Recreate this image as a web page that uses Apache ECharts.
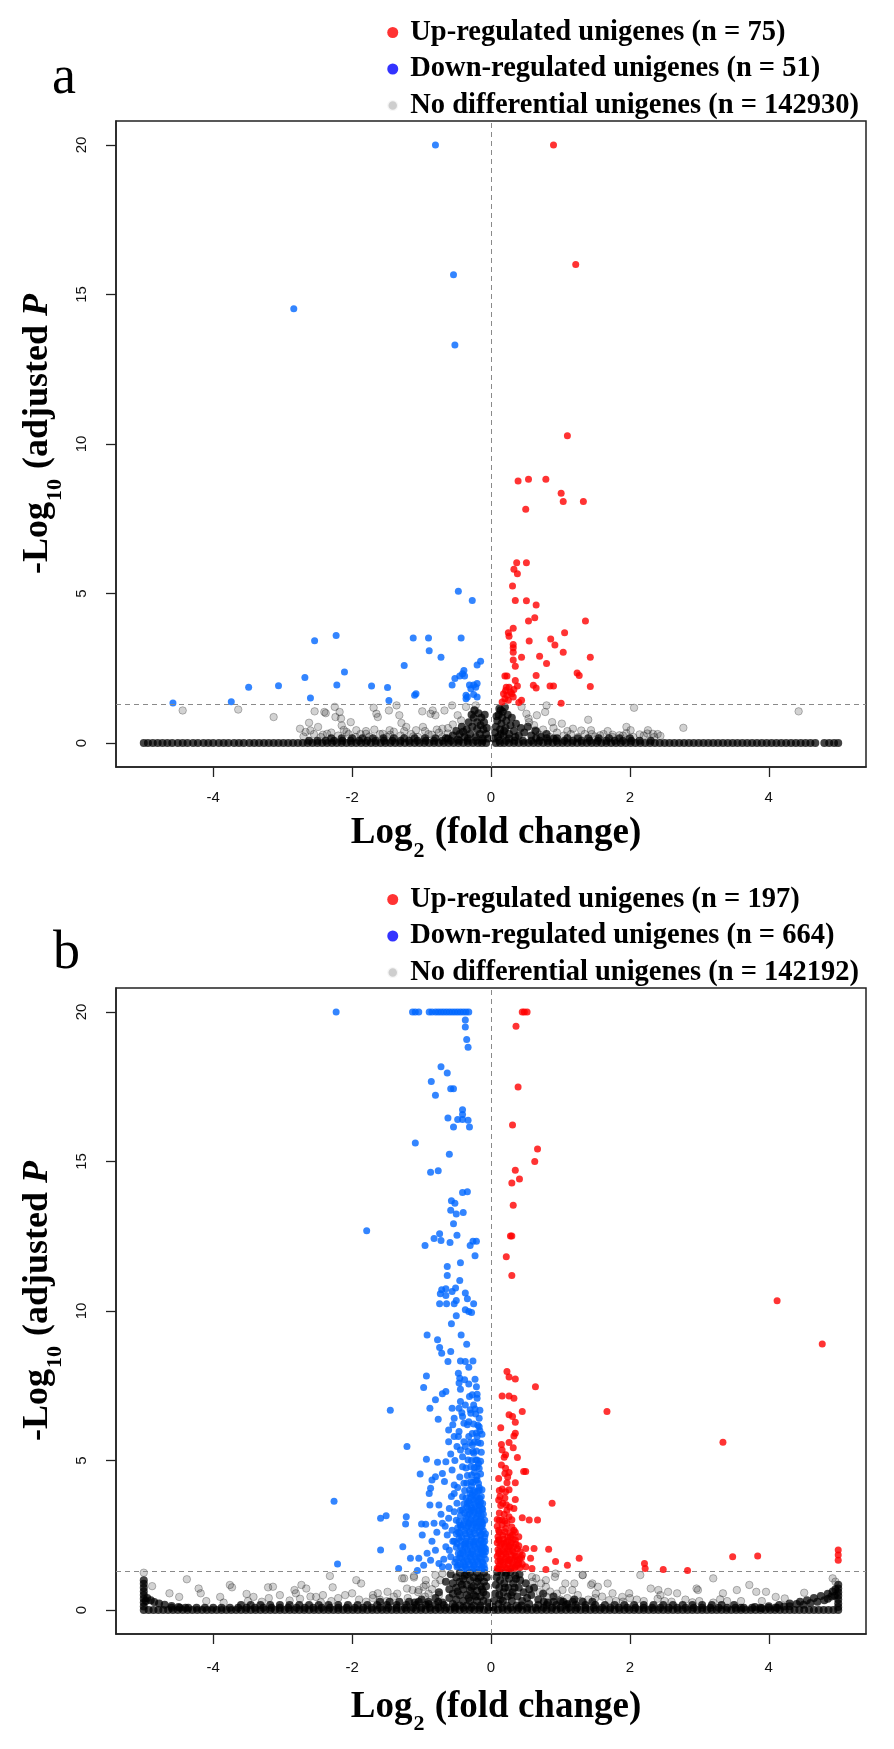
<!DOCTYPE html>
<html>
<head>
<meta charset="utf-8">
<script src="https://cdn.jsdelivr.net/npm/echarts@6/dist/echarts.min.js"></script>
<style>
html,body{margin:0;padding:0;background:#fff;}
#chart{width:894px;height:1749px;}
</style>
</head>
<body>
<div id="chart"></div>
<script>
// ---------- axis settings ----------
const xTicks = [-4, -2, 0, 2, 4];
const yTicks = [0, 5, 10, 15, 20];
const pThreshold = 1.3;
const foldLine = 0;

// ---------- panel a ----------
const upNameA = 'Up-regulated unigenes (n = 75)';
const downNameA = 'Down-regulated unigenes (n = 51)';
const nsNameA = 'No differential unigenes (n = 142930)';

const upA = [
[0.9,20],[1.22,16.0],[1.1,10.28],[0.39,8.76],[0.54,8.82],[0.79,8.82],[1.01,8.35],[1.04,8.08],[1.33,8.08],[0.5,7.82],
[0.37,6.03],[0.51,6.03],[0.33,5.81],[0.38,5.66],[0.31,5.25],[0.35,4.77],[0.51,4.76],[0.65,4.62],[0.54,4.08],[0.63,4.19],
[1.36,4.08],[0.32,3.84],[0.25,3.69],[0.26,3.57],[0.55,3.41],[0.86,3.48],[1.06,3.69],[0.92,3.28],[0.32,3.3],[0.32,3.19],
[0.32,3.04],[0.44,2.87],[0.7,2.9],[1.04,3.04],[1.43,2.87],[0.32,2.78],[0.8,2.66],[0.35,2.57],[0.2,2.24],[0.23,2.24],
[0.65,2.26],[1.24,2.34],[1.27,2.26],[0.35,2.09],[0.61,1.93],[0.65,1.84],[0.85,1.91],[0.9,1.91],[1.43,1.89],[0.22,1.87],
[0.26,1.87],[0.38,1.91],[0.18,1.65],[0.23,1.6],[0.28,1.71],[0.32,1.54],[0.2,1.48],[0.25,1.43],[0.16,1.37],[0.3,1.65],
[0.33,1.79],[0.21,1.76],[0.44,1.43],[0.4,1.36],[1.01,1.33]
];
const downA = [
[-0.8,20],[-0.54,15.66],[-2.84,14.52],[-0.52,13.31],
[-0.47,5.08],[-0.27,4.77],[-2.23,3.6],[-2.54,3.42],[-1.12,3.51],[-0.9,3.51],[-0.43,3.51],[-0.89,3.09],[-0.72,2.87],
[-1.25,2.59],[-0.15,2.74],[-0.2,2.61],[-0.39,2.43],[-0.41,2.32],[-0.45,2.24],[-0.52,2.16],[-0.38,2.24],[-2.11,2.38],
[-2.68,2.19],[-2.22,1.94],[-3.06,1.92],[-3.49,1.87],[-1.72,1.91],[-1.49,1.86],[-0.56,1.94],[-0.31,1.94],[-0.25,1.94],
[-0.2,1.99],[-0.29,1.82],[-0.22,1.87],[-0.36,1.6],[-0.34,1.54],[-0.25,1.62],[-0.2,1.54],[-0.36,1.48],[-1.08,1.65],
[-1.1,1.6],[-2.6,1.51],[-1.47,1.42],[-3.74,1.38],[-4.58,1.34]
];
const nsScatterA = [
[-4.44,1.09],[-3.64,1.12],[-3.13,0.87],[-2.75,0.48],[-2.62,0.68],[-2.67,0.37],[-2.54,1.06],[-2.49,0.54],[-2.4,1.04],
[-2.38,1.0],[-2.25,1.21],[-2.24,0.87],[-2.18,1.04],[-2.16,0.82],[-2.15,0.59],[-2.02,0.7],[-1.94,0.43],[-2.08,0.37],
[-2.36,0.31],[-1.69,1.18],[-1.65,0.98],[-1.63,0.87],[-1.47,1.09],[-1.36,1.26],[-1.32,0.93],[-1.29,0.67],[-1.22,0.54],
[-1.46,0.43],[-1.56,0.31],[-1.8,0.31],[-0.99,1.06],[-0.87,0.98],[-0.84,1.09],[-0.8,0.93],[-0.67,1.09],[-0.98,0.54],
[-1.08,0.43],[-0.7,0.48],[-0.56,1.26],[-0.48,0.93],[-0.43,0.76],[-0.36,1.21],[-0.23,1.09],[-0.22,1.26],[0.8,1.26],
[0.78,1.04],[0.66,0.93],[0.88,0.7],[1.02,0.65],[1.18,0.48],[1.4,0.78],[1.44,0.43],[2.06,1.18],[1.95,0.54],[2.01,0.43],
[2.26,0.43],[2.33,0.31],[2.44,0.24],[2.77,0.51],[4.43,1.06],[0.54,0.82],[0.51,0.98],[0.44,1.21],[0.64,0.43],[1.75,0.28],
[1.85,0.26],[1.57,0.26],[2.14,0.29],
[-2.7,0.22],[-2.55,0.3],[-2.45,0.2],[-2.3,0.35],[-2.2,0.25],[-2.05,0.3],[-1.95,0.2],[-1.8,0.4],[-1.75,0.22],[-1.6,0.3],
[-1.5,0.2],[-1.4,0.38],[-1.3,0.25],[-1.15,0.3],[-1.05,0.2],[-0.95,0.4],[-0.85,0.28],[-0.75,0.35],[-0.7,0.2],[-0.62,0.5],
[-0.55,0.62],[0.55,0.7],[0.62,0.6],[0.7,0.28],[0.75,0.45],[0.85,0.2],[0.95,0.35],[1.05,0.25],[1.15,0.3],[1.25,0.2],
[1.35,0.3],[1.5,0.22],[1.62,0.3],[1.75,0.2],[1.9,0.25],[2.05,0.2],[2.2,0.25],[2.35,0.2],
[-2.6,0.42],[-2.42,0.28],[-2.12,0.44],[-1.88,0.3],[-1.68,0.45],[-1.45,0.28],[-1.25,0.4],[-1.12,0.22],[-0.9,0.3],[-0.78,0.45],
[-0.62,0.32],[0.66,0.38],[0.9,0.5],[1.1,0.4],[1.3,0.42],[1.45,0.3],[1.68,0.4],[1.95,0.33],[2.25,0.32],[2.4,0.3]
];
const nsZeroA = [
-5.0,-4.94,-4.87,-4.8,-4.73,-4.66,-4.59,-4.51,-4.44,-4.37,-4.29,-4.22,-4.14,-4.07,-4.0,-3.92,-3.85,-3.78,-3.7,-3.63,
-3.56,-3.48,-3.41,-3.34,-3.27,-3.2,-3.13,-3.06,-2.99,-2.92,-2.85,-2.78,-2.71,-2.64,-2.57,-2.5,-2.43,-2.36,-2.29,-2.22,
-2.15,-2.08,-2.01,-1.94,-1.87,-1.8,-1.73,-1.66,-1.59,-1.52,-1.45,-1.38,-1.31,-1.24,-1.17,-1.1,-1.03,-0.96,-0.89,-0.82,
-0.75,-0.68,-0.61,-0.54,-0.47,-0.4,-0.33,-0.26,-0.19,-0.13,-0.07,0.07,0.13,0.19,0.26,0.33,0.4,0.47,0.54,0.61,0.68,0.75,
0.82,0.89,0.96,1.03,1.1,1.17,1.24,1.31,1.38,1.45,1.52,1.59,1.66,1.73,1.8,1.87,1.94,2.01,2.08,2.15,2.22,2.29,2.36,2.43,
2.5,2.57,2.64,2.71,2.78,2.85,2.92,2.99,3.06,3.13,3.2,3.27,3.34,3.41,3.48,3.55,3.62,3.69,3.76,3.83,3.9,3.97,4.04,4.11,
4.18,4.25,4.32,4.39,4.46,4.53,4.6,4.67,4.8,4.87,4.94,5.0
];
const nsRowA = [
-2.62,-2.5,-2.38,-2.26,-2.14,-2.02,-1.9,-1.78,-1.66,-1.54,-1.42,-1.3,-1.18,-1.06,-0.94,-0.82,-0.7,-0.58,-0.46,-0.34,
-0.22,-0.12,0.12,0.22,0.34,0.46,0.58,0.7,0.82,0.94,1.06,1.18,1.3,1.42,1.54,1.66,1.78,1.9,2.02,2.14,2.3
];
const nsRowA2 = [
-2.3,-2.15,-2.0,-1.85,-1.7,-1.55,-1.4,-1.25,-1.1,-0.95,-0.8,-0.65,0.65,0.8,0.95,1.1,1.25,1.4,1.55,1.7,1.85,2.0
];
const nsSpikeA = [
[-0.55,0.25],[-0.5,0.4],[-0.45,0.3],[-0.42,0.55],[-0.38,0.2],[-0.35,0.45],[-0.32,0.7],[-0.3,0.3],[-0.27,0.55],[-0.25,0.85],
[-0.22,0.2],[-0.2,0.45],[-0.2,0.7],[-0.18,1.0],[-0.16,0.3],[-0.15,0.6],[-0.14,0.85],[-0.12,0.15],[-0.11,0.45],[-0.1,0.7],
[-0.09,0.95],[-0.07,0.3],[-0.06,0.5],[-0.04,0.15],[-0.28,0.95],[-0.24,1.1],[-0.62,0.15],[-0.48,0.12],[-0.4,0.38],[-0.33,0.15],
[0.04,0.15],[0.06,0.35],[0.07,0.55],[0.09,0.75],[0.1,0.2],[0.11,0.95],[0.12,1.15],[0.13,0.45],[0.15,0.65],[0.16,0.85],
[0.17,1.05],[0.18,0.25],[0.2,1.2],[0.21,0.5],[0.22,0.75],[0.24,0.95],[0.26,0.3],[0.28,0.6],[0.3,0.85],[0.33,0.4],
[0.36,0.65],[0.4,0.25],[0.43,0.5],[0.48,0.35],[0.53,0.55],[0.58,0.25],[0.64,0.4],[0.72,0.2],[0.8,0.3],[0.9,0.15],
[0.14,0.3],[0.19,0.4],[0.26,0.15],[0.35,0.2],[0.08,0.9],[0.14,1.1]
];

// ---------- panel b ----------
const upNameB = 'Up-regulated unigenes (n = 197)';
const downNameB = 'Down-regulated unigenes (n = 664)';
const nsNameB = 'No differential unigenes (n = 142192)';

const upB = [
[0.45,20],[0.48,20],[0.52,20],[0.36,19.52],[0.39,17.49],[0.31,16.22],[0.67,15.42],[0.63,15.0],[0.35,14.71],[0.41,14.41],
[0.3,14.28],[0.32,13.54],[0.28,12.51],[0.3,12.51],[0.22,11.81],[0.3,11.19],[4.12,10.34],[4.77,8.9],
[0.23,7.98],[0.26,7.79],[0.35,7.73],[0.64,7.47],[0.16,7.16],[0.26,7.16],[0.33,7.08],[0.45,6.64],[0.26,6.53],[0.31,6.47],
[0.35,6.28],[0.35,5.91],[0.33,5.82],[0.15,5.54],[0.32,5.43],[0.21,5.19],[0.19,5.11],[0.38,5.1],[0.15,4.85],[0.21,4.74],
[0.2,4.57],[0.47,4.63],[0.5,4.63],[0.26,4.6],[0.23,4.26],[0.35,4.26],[0.16,4.05],[0.21,3.96],[0.35,3.7],[0.11,3.68],
[0.17,3.57],[0.23,3.34],[0.33,3.4],[0.88,3.57],[0.09,3.03],[0.16,3.01],[0.26,3.12],[0.45,3.09],[0.55,3.01],[0.67,3.01],
[0.11,2.67],[0.21,2.73],[0.33,2.67],[0.4,2.45],[0.28,2.45],[0.11,2.34],[0.19,2.23],[0.26,2.12],[0.35,2.34],[0.5,2.06],
[0.62,2.06],[0.83,2.03],[0.45,1.84],[0.57,1.73],[0.35,1.78],[0.26,1.67],[0.14,1.62],[0.11,1.89],[0.21,1.89],[0.5,1.45],
[0.59,1.39],[0.79,1.36],[0.93,1.62],[1.1,1.5],[1.27,1.73],[0.35,1.45],[0.23,1.39],[0.11,1.39],[0.4,1.56],
[1.67,6.64],[3.34,5.61],[2.21,1.56],[2.22,1.39],[2.48,1.36],[2.83,1.32],[3.48,1.78],[3.84,1.81],[5.0,2.01],[5.0,1.84],[5.0,1.67],
[0.09,1.4],[0.15,1.38],[0.21,1.42],[0.28,1.38],[0.34,1.4],[0.42,1.42],[0.1,1.62],[0.17,1.6],[0.24,1.64],[0.31,1.58],
[0.38,1.66],[0.09,1.8],[0.15,1.82],[0.22,1.78],[0.29,1.84],[0.36,1.8],[0.44,1.75],[0.1,2.02],[0.17,2.0],[0.24,2.04],
[0.31,1.98],[0.38,2.05],[0.09,2.25],[0.15,2.22],[0.22,2.28],[0.29,2.24],[0.36,2.2],[0.1,2.45],[0.17,2.5],[0.24,2.44],
[0.31,2.52],[0.09,2.8],[0.16,2.85],[0.23,2.9],[0.3,2.78],[0.12,3.25],[0.19,3.2],[0.27,3.45],[0.13,3.8],[0.2,3.75],
[0.11,4.4],[0.24,4.45],[0.16,5.35],[0.26,5.6],[0.14,6.1],
[0.12,1.5],[0.18,1.5],[0.25,1.52],[0.31,1.48],[0.38,1.5],[0.45,1.53],[0.13,1.7],[0.2,1.72],[0.27,1.7],[0.34,1.68],
[0.41,1.72],[0.12,1.95],[0.19,1.93],[0.26,1.96],[0.33,1.92],[0.42,1.95],[0.13,2.15],[0.2,2.13],[0.28,2.16],[0.33,2.12],
[0.4,2.15],[0.12,2.35],[0.18,2.37],[0.25,2.33],[0.32,2.36],[0.12,2.6],[0.2,2.62],[0.27,2.58],[0.35,2.6],[0.12,3.0],
[0.2,2.98],[0.3,3.02],[0.14,3.5],[0.22,3.52],[0.12,4.0],[0.26,4.02]
];
const downB = [
[-2.23,20],[-1.13,20],[-1.09,20],[-1.04,20],[-0.89,20],[-0.85,20],[-0.8,20],[-0.76,20],[-0.72,20],[-0.68,20],
[-0.64,20],[-0.6,20],[-0.56,20],[-0.52,20],[-0.48,20],[-0.44,20],[-0.4,20],[-0.36,20],[-0.32,20],
[-0.37,19.73],[-0.37,19.5],[-0.35,19.08],[-0.33,18.82],[-0.72,18.17],[-0.63,17.96],[-0.86,17.67],[-0.58,17.43],[-0.54,17.43],
[-0.8,17.21],[-0.41,16.73],[-0.41,16.57],[-0.62,16.45],[-0.48,16.4],[-0.41,16.4],[-0.33,16.38],[-0.54,16.15],[-0.31,16.15],
[-1.09,15.62],[-0.6,15.24],[-0.87,14.64],[-0.76,14.69],[-0.41,13.96],[-0.34,13.99],[-0.57,13.69],[-0.52,13.6],[-0.58,13.37],
[-0.5,13.24],[-0.4,13.29],[-0.54,12.92],[-1.79,12.68],[-0.74,12.58],[-0.82,12.42],[-0.72,12.36],[-0.49,12.53],[-0.59,12.29],
[-0.95,12.19],[-0.3,12.19],[-0.26,12.33],[-0.21,12.33],[-0.23,11.85],[-0.44,11.61],[-0.63,11.49],[-0.63,11.19],
[-0.45,11.02],[-0.51,10.77],[-0.56,10.65],[-0.71,10.71],[-0.65,10.74],[-0.73,10.58],[-0.65,10.52],[-0.37,10.6],[-0.34,10.41],
[-0.5,10.35],[-0.53,10.24],[-0.74,10.24],[-0.64,10.24],[-0.25,10.24],
[-0.32,9.98],[-0.37,10.04],[-0.28,9.95],[-0.5,9.84],[-0.57,9.57],[-0.92,9.2],[-0.43,9.2],[-0.77,9.04],[-0.35,8.89],[-0.74,8.78],
[-0.71,8.59],[-0.58,8.65],[-0.62,8.31],[-0.44,8.33],[-0.37,8.31],[-0.26,8.33],[-0.32,8.12],[-0.47,7.92],[-0.45,7.75],[-0.46,7.59],
[-0.38,7.7],[-0.23,7.72],[-0.32,7.56],[-0.21,7.47],[-0.44,7.38],[-0.93,7.83],[-0.97,7.44],[-0.65,7.31],[-0.7,7.23],[-0.8,7.03],
[-0.88,6.75],[-0.76,6.38],[-0.44,6.97],[-0.56,6.75],[-0.46,6.75],[-0.37,6.86],[-0.31,7.14],[-0.2,7.08],[-0.25,6.86],[-0.29,6.58],
[-0.22,6.56],[-0.17,6.41],[-0.53,6.41],[-0.41,6.47],[-0.39,6.25],[-0.32,6.3],[-0.17,6.13],[-0.61,6.02],[-0.53,5.8],[-0.46,5.97],
[-0.32,5.8],[-0.2,5.8],[-0.61,5.63],[-0.39,5.63],[-0.49,5.47],[-0.37,5.47],[-0.27,5.52],[-0.44,5.35],[-0.25,5.24],[-0.41,5.13],
[-0.33,5.02],[-0.2,5.02],[-0.58,5.22],[-0.65,4.96],[-0.77,4.94],[-0.93,5.04],[-1.02,4.55],[-0.85,4.35],[-0.8,4.46],[-0.7,4.57],
[-0.56,4.68],[-0.41,4.79],[-0.29,4.79],[-0.2,4.79],[-0.87,4.07],[-0.89,3.9],[-0.88,3.51],[-0.75,3.51],[-0.53,4.18],[-0.39,4.24],
[-0.29,4.29],[-0.2,4.35],[-0.17,4.01],[-0.53,3.9],[-0.41,3.79],[-0.27,3.85],[-0.2,3.79],[-0.49,3.57],[-0.34,3.57],[-0.17,3.51],
[-1.21,5.47],[-1.22,3.12],[-1.23,2.88],[-1.0,2.88],[-0.94,2.87],[-0.82,2.9],[-0.7,2.9],[-0.61,3.07],[-0.53,3.29],[-0.44,3.34],
[-0.29,3.34],[-0.17,3.34],[-1.27,2.12],[-1.16,1.73],[-1.04,1.73],[-0.99,2.51],[-0.97,1.5],[-0.87,1.67],[-0.8,2.0],[-0.75,1.56],
[-0.65,2.12],[-0.58,1.78],[-0.63,2.51],[-0.56,2.67],[-0.44,2.84],[-0.32,2.9],[-0.22,2.9],[-0.13,2.79],[-0.49,2.23],[-0.37,2.23],
[-0.25,2.28],[-0.14,2.34],[-0.7,1.45],[-0.61,1.45],[-0.49,1.45],[-0.37,1.45],[-0.25,1.45],[-0.13,1.45],[-0.44,1.89],[-0.29,1.89],
[-0.15,1.89],[-0.13,2.12],[-1.33,1.39],
[-1.45,6.68],[-2.26,3.64],[-1.59,3.07],[-1.51,3.15],[-1.59,2.01],[-2.21,1.54],[-1.06,1.32],
[-0.42,1.38],[-0.35,1.38],[-0.28,1.38],[-0.21,1.38],[-0.15,1.38],[-0.09,1.38],[-0.4,1.6],[-0.33,1.62],[-0.26,1.6],[-0.19,1.62],
[-0.12,1.6],[-0.08,1.7],[-0.45,1.75],[-0.37,1.8],[-0.3,1.78],[-0.23,1.8],[-0.17,1.76],[-0.1,1.85],[-0.41,2.0],[-0.34,2.02],
[-0.27,2.0],[-0.2,2.03],[-0.14,2.0],[-0.08,2.05],[-0.46,2.4],[-0.39,2.2],[-0.32,2.22],[-0.25,2.2],[-0.18,2.22],[-0.11,2.25],
[-0.42,2.45],[-0.35,2.42],[-0.28,2.44],[-0.21,2.42],[-0.15,2.5],[-0.09,2.45],[-0.38,2.65],[-0.31,2.62],[-0.24,2.66],[-0.17,2.62],
[-0.11,2.65],[-0.4,2.85],[-0.33,2.82],[-0.26,2.86],[-0.19,2.82],[-0.12,2.88],[-0.09,3.0],[-0.36,3.05],[-0.29,3.02],[-0.22,3.06],
[-0.15,3.03],[-0.11,3.2],[-0.38,3.25],[-0.31,3.22],[-0.24,3.26],[-0.18,3.22],[-0.13,3.4],[-0.35,3.45],[-0.28,3.42],[-0.22,3.46],
[-0.15,3.6],[-0.32,3.65],[-0.25,3.68],[-0.19,3.64],[-0.14,3.8],[-0.3,3.9],[-0.23,3.95],[-0.17,4.1],[-0.28,4.15],[-0.22,4.35],
[-0.15,4.55],[-0.24,4.6],[-0.18,4.9],[-0.26,5.3],[-0.19,5.6],[-0.16,6.0],
[-0.92,1.9],[-0.85,2.3],[-0.78,2.6],[-0.68,1.7],[-0.6,2.0],[-0.55,2.3],[-0.52,1.6],[-0.47,2.6],[-0.66,2.8],[-0.72,3.2],
[-0.6,3.4],[-0.5,3.0],[-0.57,3.8],[-0.48,4.1],[-0.67,4.3],[-0.45,4.45],[-0.52,5.0],[-0.47,5.8],[-0.55,6.2],[-0.42,6.6],
[-0.48,1.5],[-0.44,1.52],[-0.38,1.5],[-0.31,1.52],[-0.24,1.5],[-0.17,1.52],[-0.1,1.5],[-0.5,1.7],[-0.42,1.72],[-0.35,1.7],
[-0.28,1.68],[-0.21,1.7],[-0.14,1.72],[-0.47,1.9],[-0.4,1.92],[-0.33,1.9],[-0.26,1.88],[-0.19,1.92],[-0.12,1.9],[-0.08,1.95],
[-0.5,2.1],[-0.44,2.12],[-0.37,2.1],[-0.3,2.12],[-0.23,2.1],[-0.16,2.12],[-0.1,2.1],[-0.53,2.3],[-0.44,2.32],[-0.36,2.3],
[-0.29,2.32],[-0.22,2.3],[-0.15,2.32],[-0.09,2.3],[-0.5,2.55],[-0.45,2.57],[-0.37,2.55],[-0.3,2.53],[-0.23,2.56],[-0.14,2.55],
[-0.08,2.55],[-0.48,2.75],[-0.43,2.77],[-0.35,2.75],[-0.28,2.73],[-0.21,2.76],[-0.15,2.75],[-0.46,2.95],[-0.38,2.97],[-0.31,2.95],
[-0.24,2.93],[-0.17,2.96],[-0.13,2.95],[-0.44,3.15],[-0.34,3.17],[-0.27,3.15],[-0.2,3.13],[-0.14,3.16],[-0.41,3.35],[-0.32,3.37],
[-0.25,3.35],[-0.19,3.33],[-0.12,3.36],[-0.39,3.55],[-0.3,3.57],[-0.24,3.55],[-0.17,3.53],[-0.12,3.56],[-0.36,3.75],[-0.29,3.77],
[-0.22,3.75],[-0.16,3.73],[-0.38,4.0],[-0.31,4.02],[-0.25,4.0],[-0.19,3.98],[-0.13,4.02],[-0.35,4.25],[-0.26,4.27],[-0.18,4.23],
[-0.34,4.5],[-0.28,4.52],[-0.2,4.48],[-0.36,4.75],[-0.24,4.77],[-0.17,4.73],[-0.28,5.0],[-0.22,5.02],[-0.15,4.98],[-0.33,5.3],
[-0.21,5.32],[-0.14,5.28],[-0.3,5.6],[-0.24,5.62],[-0.15,5.58],[-0.27,5.9],[-0.21,5.92],[-0.13,5.88],[-0.34,6.2],[-0.25,6.22],
[-0.19,6.18],[-0.3,6.7],[-0.23,6.72],[-0.16,6.68],[-0.27,7.2],[-0.2,7.22]
];
const nsScatterB = [
[-5.0,1.25],[-4.38,1.03],[-4.88,0.8],[-4.63,0.56],[-4.49,0.44],[-4.21,0.72],[-4.18,0.56],[-3.9,0.44],[-3.76,0.84],[-3.73,0.76],
[-3.52,0.54],[-3.42,0.44],[-3.21,0.76],[-3.14,0.78],[-3.04,0.5],[-2.83,0.67],[-2.81,0.56],[-2.73,0.84],[-2.66,0.72],[-2.52,0.44],
[-2.42,0.5],[-2.32,1.14],[-2.28,0.76],[-2.0,0.56],[-1.94,1.0],[-1.87,0.89],[-1.7,0.5],[-1.63,0.56],[-1.49,0.61],[-1.28,1.06],
[-1.21,0.72],[-1.11,1.14],[-1.04,0.67],[-0.94,0.84],[-0.8,1.17],[-0.73,1.0],[0.65,1.06],[0.72,0.89],[0.79,0.78],[0.92,1.11],
[1.03,0.67],[1.2,0.89],[1.32,1.17],[1.44,0.84],[1.54,0.78],[1.68,0.89],[1.75,0.56],[1.89,0.44],[1.99,0.56],[2.15,1.17],
[2.3,0.72],[2.41,0.67],[2.44,0.5],[2.55,0.61],[2.68,0.56],[2.96,0.72],[2.98,0.67],[3.2,1.06],[3.34,0.56],[3.54,0.67],
[3.72,0.84],[3.82,0.61],[3.96,0.61],[4.1,0.44],[4.23,0.39],[4.51,0.58],[4.92,1.06],[4.96,0.95],
[-1.25,1.06],[-1.11,1.09],[-0.94,1.0],[-0.8,0.89],[-1.13,0.67],[-0.97,0.78],[-0.7,1.22],[0.59,1.11],[0.79,1.0],[0.93,1.22],
[1.07,0.89],[1.32,1.17],[1.46,0.89],[1.51,0.55],[1.17,0.67],
[-3.5,0.3],[-3.2,0.4],[-2.9,0.32],[-2.6,0.45],[-2.3,0.3],[-2.1,0.5],[-1.9,0.35],[-1.7,0.4],[-1.5,0.3],[-1.35,0.55],
[-1.2,0.4],[-1.05,0.6],[-0.95,0.45],[-0.85,0.7],[-0.75,0.5],[0.6,0.95],[0.7,0.6],[0.8,0.45],[0.95,0.55],[1.1,0.4],
[1.25,0.5],[1.4,0.35],[1.6,0.45],[1.8,0.3],[2.0,0.4],[2.2,0.3],[2.4,0.38],[2.6,0.28],[2.8,0.35],[3.0,0.3],[3.2,0.25],[3.4,0.3],
[-4.1,0.3],[-3.85,0.25],[-3.3,0.28],[-2.75,0.38],[-2.45,0.26],[-2.2,0.4],[-1.8,0.28],[-1.6,0.35],[-1.4,0.45],[-0.9,0.55],
[0.85,0.62],[1.0,0.35],[1.3,0.3],[1.5,0.4],[1.7,0.33],[1.9,0.28],[2.1,0.35],[2.5,0.3],[2.9,0.26],[3.3,0.36],[3.6,0.3],[3.9,0.3]
];
const nsZeroB = [
-5.0,-4.93,-4.86,-4.79,-4.72,-4.65,-4.58,-4.51,-4.44,-4.37,-4.3,-4.23,-4.16,-4.09,-4.02,-3.95,-3.88,-3.81,-3.74,-3.67,
-3.6,-3.53,-3.46,-3.39,-3.32,-3.25,-3.18,-3.11,-3.04,-2.97,-2.9,-2.83,-2.76,-2.69,-2.62,-2.55,-2.48,-2.41,-2.34,-2.27,
-2.2,-2.13,-2.06,-1.99,-1.92,-1.85,-1.78,-1.71,-1.64,-1.57,-1.5,-1.43,-1.36,-1.29,-1.22,-1.15,-1.08,-1.01,-0.94,-0.87,
-0.8,-0.73,-0.66,-0.59,-0.52,-0.45,-0.38,-0.31,-0.24,-0.17,-0.1,-0.04,0.04,0.1,0.17,0.24,0.31,0.38,0.45,0.52,0.59,0.66,
0.73,0.8,0.87,0.94,1.01,1.08,1.15,1.22,1.29,1.36,1.43,1.5,1.57,1.64,1.71,1.78,1.85,1.92,1.99,2.06,2.13,2.2,2.27,2.34,
2.41,2.48,2.55,2.62,2.69,2.76,2.83,2.9,2.97,3.04,3.11,3.18,3.25,3.32,3.39,3.46,3.53,3.6,3.67,3.74,3.81,3.88,3.95,4.02,
4.09,4.16,4.23,4.3,4.37,4.44,4.51,4.58,4.65,4.72,4.79,4.86,4.93,5.0
];
const nsRowB1 = [
-4.6,-4.48,-4.36,-4.24,-4.12,-4.0,-3.88,-3.76,-3.64,-3.52,-3.4,-3.28,-3.16,-3.04,-2.92,-2.8,-2.68,-2.56,-2.44,-2.32,
-2.2,-2.08,-1.96,-1.84,-1.72,-1.6,-1.48,-1.36,-1.24,-1.12,-1.0,-0.88,-0.76,-0.64,-0.52,-0.4,-0.28,-0.16,0.16,0.28,0.4,
0.52,0.64,0.76,0.88,1.0,1.12,1.24,1.36,1.48,1.6,1.72,1.84,1.96,2.08,2.2,2.32,2.44,2.56,2.68,2.8,2.92,3.04,3.16,3.28,
3.4,3.52,3.64,3.76,3.88,4.0,4.12
];
const nsRowB2 = [
-3.6,-3.46,-3.32,-3.18,-3.04,-2.9,-2.76,-2.62,-2.48,-2.34,-2.2,-2.06,-1.92,-1.78,-1.64,-1.5,-1.36,-1.22,-1.08,-0.94,-0.8,
-0.68,0.68,0.8,0.94,1.08,1.22,1.36,1.5,1.64,1.78,1.92,2.06,2.2,2.34,2.48,2.62,2.76,2.9,3.04,3.18,3.32,3.5
];
const nsRowB3 = [-1.6,-1.46,-1.32,-1.18,-1.04,-0.9,-0.76,0.76,0.9,1.04,1.18,1.32,1.46];
const nsEdgeB = [
[-5,0.12],[-5,0.25],[-5,0.38],[-5,0.5],[-5,0.62],[-5,0.75],[-5,0.88],[-5,1.0],[-4.97,0.3],
[-4.95,0.4],[-4.9,0.33],[-4.85,0.27],[-4.78,0.22],[-4.7,0.18],[-4.6,0.14],[-4.5,0.1],[-4.4,0.08],
[5,0.1],[5,0.22],[5,0.35],[5,0.48],[5,0.6],[5,0.72],[5,0.85],
[3.6,0.08],[3.8,0.1],[4.0,0.13],[4.15,0.17],[4.3,0.22],[4.45,0.28],[4.55,0.33],[4.65,0.4],[4.75,0.47],[4.85,0.55],
[4.92,0.62],[4.96,0.7],[3.9,0.06],[4.1,0.09],[4.3,0.13],[4.5,0.18],[4.7,0.28],[4.85,0.38],[4.95,0.48],
[4.22,0.12],[4.4,0.2],[4.6,0.24],[4.8,0.33],[4.9,0.45]
];
const nsSpikeB = [
[-0.6,0.4],[-0.6,0.7],[-0.55,0.2],[-0.55,0.55],[-0.55,0.9],[-0.5,0.35],[-0.5,0.75],[-0.5,1.1],[-0.45,0.15],[-0.45,0.5],
[-0.45,0.95],[-0.45,1.25],[-0.4,0.3],[-0.4,0.7],[-0.4,1.05],[-0.35,0.15],[-0.35,0.5],[-0.35,0.85],[-0.35,1.2],[-0.3,0.3],
[-0.3,0.65],[-0.3,1.0],[-0.3,1.25],[-0.25,0.15],[-0.25,0.5],[-0.25,0.8],[-0.25,1.1],[-0.2,0.3],[-0.2,0.65],[-0.2,0.95],
[-0.2,1.25],[-0.15,0.15],[-0.15,0.45],[-0.15,0.8],[-0.15,1.1],[-0.11,0.3],[-0.11,0.6],[-0.1,0.95],[-0.1,1.25],[-0.07,0.5],
[-0.07,0.8],[-0.06,1.1],[-0.04,0.25],[-0.03,0.1],
[0.03,0.1],[0.04,0.3],[0.06,0.55],[0.07,0.85],[0.08,1.1],[0.09,1.27],[0.11,0.2],[0.12,0.5],[0.12,0.75],[0.13,1.0],
[0.15,1.25],[0.17,0.3],[0.18,0.6],[0.19,0.9],[0.21,1.15],[0.23,0.15],[0.24,0.45],[0.25,0.75],[0.26,1.05],[0.28,1.27],
[0.3,0.3],[0.31,0.6],[0.32,0.9],[0.35,1.15],[0.37,0.15],[0.38,0.45],[0.4,0.75],[0.42,1.0],[0.45,0.3],[0.47,0.6],
[0.5,0.9],[0.55,0.2],[0.58,0.5],[0.62,0.75],[0.68,0.35],[0.75,0.55],[0.82,0.25],[0.9,0.45],[1.0,0.3],[1.1,0.2],[1.2,0.35],
[-0.7,0.25],[-0.8,0.4],[-0.9,0.2],[-1.0,0.35],[-1.1,0.25],[-0.75,0.6],[-0.65,0.95],
[-0.58,1.2],[-0.52,0.12],[-0.48,0.62],[-0.42,0.85],[-0.38,1.15],[-0.32,0.4],[-0.28,0.75],[-0.22,0.45],[-0.18,1.05],[-0.13,0.7],
[0.14,0.35],[0.2,0.75],[0.22,1.25],[0.29,0.5],[0.34,0.75],[0.36,1.05],[0.41,1.2],[0.44,0.15],[0.52,0.4],[0.55,0.7]
];

// ---------- build ----------
const rowPts = (xs, y) => xs.map(x => [x, y]);
const serifBold = {fontFamily: '"Liberation Serif", "Times New Roman", serif', fontWeight: 'bold', color: '#000'};

const gridTops = [121, 988];
const xNameGaps = [46, 53];
const xLabelMargins = [23, 26];
const legendTops = [13, 880];

function makeXAxis(i) {
  return {
    gridIndex: i, type: 'value', min: -5.4, max: 5.4,
    axisLine: {show: true, onZero: false, lineStyle: {color: '#222', width: 1.5}},
    axisTick: {show: true, length: 10, customValues: xTicks, lineStyle: {color: '#222', width: 1.3}},
    axisLabel: {customValues: xTicks, margin: xLabelMargins[i], fontFamily: '"Liberation Sans", Arial, sans-serif', fontSize: 15, color: '#111', formatter: v => String(v)},
    splitLine: {show: false},
    name: '{m|Log}{s|2}{m| (fold change)}',
    nameLocation: 'middle', nameGap: xNameGaps[i],
    nameTextStyle: {
      padding: [0, 0, 0, 10],
      rich: {
        m: Object.assign({fontSize: 37, lineHeight: 40}, serifBold),
        s: Object.assign({fontSize: 22, lineHeight: 40, padding: [34, 1, 0, 1]}, serifBold)
      }
    }
  };
}
function makeYAxis(i) {
  return {
    gridIndex: i, type: 'value', min: -0.8, max: 20.8,
    axisLine: {show: true, onZero: false, lineStyle: {color: '#222', width: 1.5}},
    axisTick: {show: true, length: 10, customValues: yTicks, lineStyle: {color: '#222', width: 1.3}},
    axisLabel: {customValues: yTicks, rotate: 90, margin: 27, fontFamily: '"Liberation Sans", Arial, sans-serif', fontSize: 15, color: '#111'},
    splitLine: {show: false},
    name: '{m|-Log}{s|10}{m| (adjusted }{i|P}',
    nameLocation: 'middle', nameGap: 56, nameRotate: 90,
    nameTextStyle: {
      padding: [0, 0, 0, 20],
      rich: {
        m: Object.assign({fontSize: 36, lineHeight: 40}, serifBold),
        s: Object.assign({fontSize: 22, lineHeight: 40, padding: [34, 1, 0, 1]}, serifBold),
        i: Object.assign({fontSize: 36, lineHeight: 40, fontStyle: 'italic'}, serifBold)
      }
    }
  };
}
function makeLegend(i, names) {
  return {
    orient: 'vertical', left: 381, top: legendTops[i], itemWidth: 11, itemHeight: 11, itemGap: 7.5,
    selectedMode: false, icon: 'circle',
    textStyle: Object.assign({fontSize: 28.5, lineHeight: 26, padding: [0, 0, 0, 7]}, serifBold),
    data: [
      {name: names[0], itemStyle: {color: '#ff0000'}},
      {name: names[1], itemStyle: {color: '#0000ff'}},
      {name: names[2], itemStyle: {color: '#c2c2c2', borderColor: '#ffffff', borderWidth: 2.5}}
    ]
  };
}
function panelSeries(i, names, up, down, scatter, dense) {
  const base = {type: 'scatter', xAxisIndex: i, yAxisIndex: i, emphasis: {disabled: true}, silent: true};
  return [
    Object.assign({}, base, {name: names[2], data: scatter, symbolSize: 7.5, z: 2,
      itemStyle: {color: 'rgba(0,0,0,0.22)', borderColor: 'rgba(0,0,0,0.4)', borderWidth: 0.8}}),
    Object.assign({}, base, {name: names[2], data: dense, symbolSize: 8, z: 3,
      itemStyle: {color: 'rgba(0,0,0,0.92)'}}),
    Object.assign({}, base, {name: names[1], data: down, symbolSize: 7, z: 4, itemStyle: {color: '#0066ff'}}),
    Object.assign({}, base, {name: names[0], data: up, symbolSize: 7, z: 5, itemStyle: {color: '#ff0000'},
      markLine: {silent: true, symbol: ['none', 'none'], label: {show: false}, animation: false,
        lineStyle: {type: [5, 4], color: '#8a8a8a', width: 1},
        data: [{xAxis: foldLine}, {yAxis: pThreshold}]}})
  ];
}

const namesA = [upNameA, downNameA, nsNameA];
const namesB = [upNameB, downNameB, nsNameB];
const denseA = rowPts(nsZeroA, 0).concat(rowPts(nsRowA, 0.08), rowPts(nsRowA2, 0.16), nsSpikeA);
const denseB = rowPts(nsZeroB, 0).concat(rowPts(nsRowB1, 0.08), rowPts(nsRowB2, 0.17), rowPts(nsRowB3, 0.28), nsEdgeB, nsSpikeB);

const chart = echarts.init(document.getElementById('chart'), null, {renderer: 'canvas'});
chart.setOption({
  animation: false,
  backgroundColor: '#ffffff',
  grid: gridTops.map(t => ({left: 116, right: 28, top: t, height: 646, show: true, borderColor: '#222', borderWidth: 1.5, backgroundColor: 'transparent'})),
  xAxis: [makeXAxis(0), makeXAxis(1)],
  yAxis: [makeYAxis(0), makeYAxis(1)],
  legend: [makeLegend(0, namesA), makeLegend(1, namesB)],
  graphic: [
    {type: 'text', left: 52, top: 52, style: {text: 'a', font: '54px "Liberation Serif"', fill: '#000'}},
    {type: 'text', left: 53, top: 927, style: {text: 'b', font: '54px "Liberation Serif"', fill: '#000'}}
  ],
  series: panelSeries(0, namesA, upA, downA, nsScatterA, denseA)
    .concat(panelSeries(1, namesB, upB, downB, nsScatterB, denseB))
});
</script>
</body>
</html>
